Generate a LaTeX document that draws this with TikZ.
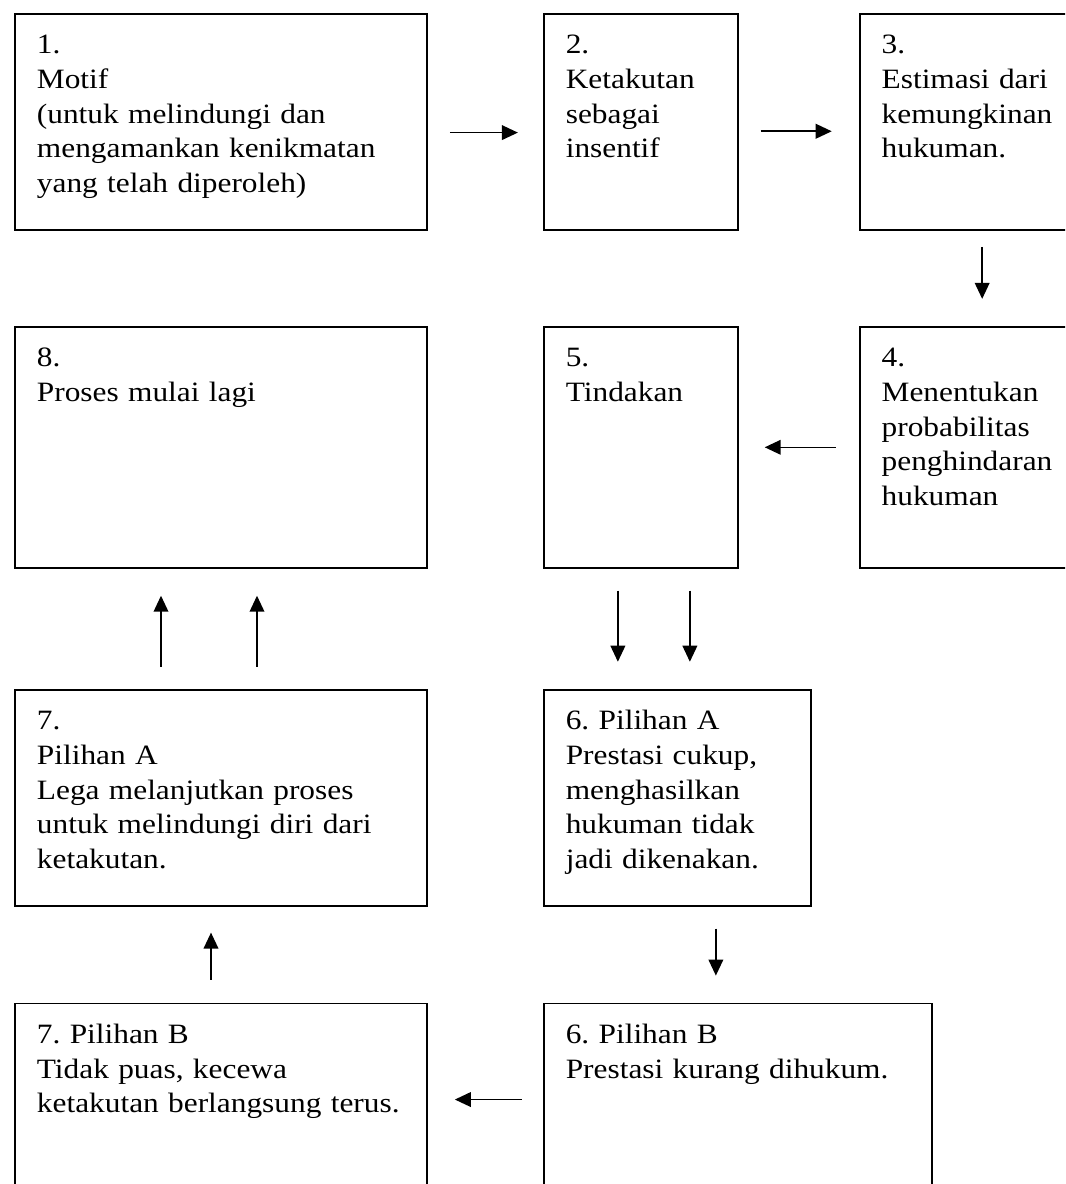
\documentclass[tikz,border=0pt]{standalone}
\usepackage{fontspec}
\setmainfont{Liberation Serif}[FakeStretch=1.12]
\usepackage{tikz}
\usetikzlibrary{arrows.meta,positioning}
\tikzset{
  kotak/.style={draw,line width=1.4pt,align=left,inner xsep=16.5pt,inner ysep=0pt,
                text width=#1-33pt,text height=30pt,font=\fontsize{21}{26}\selectfont\frenchspacing},
  baris1/.style={text depth=132pt},
  baris2/.style={text depth=150.75pt},
  baris3/.style={text depth=132pt},
  baris4/.style={text depth=157.5pt},
  panah/.style={-{Triangle[length=12pt,width=11pt]},line width=1.2pt},
}
\begin{document}
\begin{tikzpicture}[x=0.75pt,y=-0.75pt]
  \useasboundingbox (0,0) rectangle (1065,1184);
  \clip (0,0) rectangle (1065,1184);

  \node[kotak=309pt,baris1,anchor=north west] (m1) at (14,13)
       {1.\\Motif\\(untuk melindungi dan\\mengamankan kenikmatan\\yang telah diperoleh)};
  \node[kotak=145.5pt,baris1,right=86.25pt of m1] (m2) {2.\\Ketakutan\\sebagai\\insentif};
  \node[kotak=183.75pt,baris1,right=90pt of m2] (m3) {3.\\Estimasi dari\\kemungkinan\\hukuman.};

  \node[kotak=309pt,baris2,below=71.25pt of m1] (m8) {8.\\Proses mulai lagi};
  \node[kotak=145.5pt,baris2,below=71.25pt of m2] (m5) {5.\\Tindakan};
  \node[kotak=183.75pt,baris2,below=71.25pt of m3] (m4)
       {4.\\Menentukan\\probabilitas\\penghindaran\\hukuman};

  \node[kotak=309pt,baris3,below=90pt of m8] (m7a)
       {7.\\Pilihan A\\Lega melanjutkan proses\\untuk melindungi diri dari\\ketakutan.};
  \node[kotak=200.25pt,baris3,below=90pt of m5.south west,anchor=north west] (m6a)
       {6. Pilihan A\\Prestasi cukup,\\menghasilkan\\hukuman tidak\\jadi dikenakan.};

  \node[kotak=309pt,baris4,below=72pt of m7a] (m7b)
       {7. Pilihan B\\Tidak puas, kecewa\\ketakutan berlangsung terus.};
  \node[kotak=291pt,baris4,below=72pt of m6a.south west,anchor=north west] (m6b)
       {6. Pilihan B\\Prestasi kurang dihukum.};

  \draw[panah,shorten <=16.5pt,shorten >=18.75pt] ([yshift=-8pt]m1.east) -- ([yshift=-8pt]m2.west);
  \draw[panah,shorten <=16.5pt,shorten >=20.25pt] ([yshift=-7pt]m2.east) -- ([yshift=-7pt]m3.west);
  \draw[panah,shorten <=12pt,shorten >=20.25pt] (m3) -- (m4);
  \draw[panah,shorten <=17.25pt,shorten >=19.5pt] (m4) -- (m5);
  \foreach \dx in {56.25pt,110.25pt}
    \draw[panah,shorten <=16.5pt,shorten >=20.25pt] ([xshift=\dx]m5.south west) -- ([xshift=\dx]m6a.north west);
  \foreach \dx in {110.25pt,182.25pt}
    \draw[panah,shorten <=16.5pt,shorten >=20.25pt] ([xshift=\dx]m7a.north west) -- ([xshift=\dx]m8.south west);
  \draw[panah,shorten <=16.5pt,shorten >=20.25pt] ([xshift=129.75pt]m6a.south west) -- ([xshift=129.75pt]m6b.north west);
  \draw[panah,shorten <=16pt,shorten >=20.25pt] ([yshift=21.75pt]m6b.west) -- ([yshift=21.75pt]m7b.east);
  \draw[panah,shorten <=17.25pt,shorten >=19.5pt] ([xshift=147.75pt]m7b.north west) -- ([xshift=147.75pt]m7a.south west);
\end{tikzpicture}
\end{document}
